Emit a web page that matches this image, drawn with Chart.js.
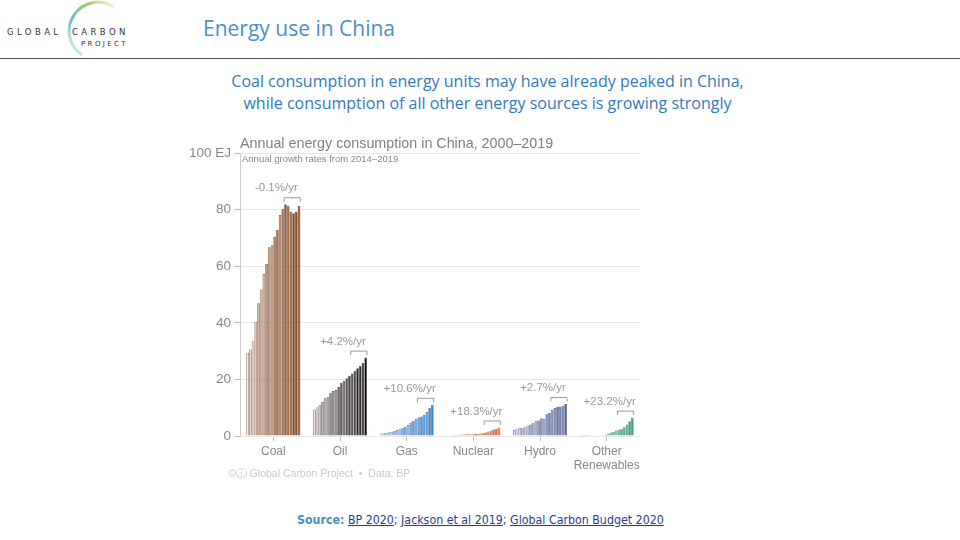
<!DOCTYPE html>
<html>
<head>
<meta charset="utf-8">
<script src="https://cdn.jsdelivr.net/npm/chart.js@4"></script>
<style>
  body { margin: 0; background: #fff; }
  #page { position: relative; width: 960px; height: 540px; overflow: hidden; font-family: "Open Sans", sans-serif; }
  #logo { position: absolute; left: 0; top: 0; }
  #title { position: absolute; left: 203px; top: 14px; font-family: "Open Sans", sans-serif; font-size: 21px; color: #4a8fcf; }
  #rule { position: absolute; left: 0; top: 58px; width: 960px; height: 1px; background: #555; }
  #lead { position: absolute; left: 180px; top: 70px; width: 615px; text-align: center; font-family: "Open Sans", sans-serif; font-size: 16px; line-height: 22px; color: #3479bb; }
  #wrap { position: absolute; left: 180px; top: 130px; width: 470px; height: 360px; }
  #source { position: absolute; left: 297px; top: 513px; font-family: "DejaVu Sans Condensed", "DejaVu Sans", sans-serif; font-size: 12.3px; color: #1f3d8f; }
  #source b { color: #4a8fc0; }
  #source u { color: #1f3d8f; }
</style>
</head>
<body>
<div id="page">
  <svg id="logo" width="140" height="60">
    <defs>
      <linearGradient id="arcg" x1="1" y1="0" x2="0" y2="1">
        <stop offset="0" stop-color="#d6e07a" stop-opacity="0.3"/>
        <stop offset="0.3" stop-color="#9ccc6e"/>
        <stop offset="0.65" stop-color="#6cbfc6"/>
        <stop offset="1" stop-color="#b8dde6" stop-opacity="0.4"/>
      </linearGradient>
    </defs>
    <path d="M 114 7 A 28 28 0 1 0 82 55" fill="none" stroke="url(#arcg)" stroke-width="3"/>
    <text x="7" y="35" font-family="DejaVu Sans" font-size="8.5" letter-spacing="3.4" fill="#333">GLOBAL</text>
    <text x="72" y="35" font-family="DejaVu Sans" font-size="8.5" letter-spacing="3.4" fill="#333">CARBON</text>
    <text x="81" y="46" font-family="DejaVu Sans" font-size="7" letter-spacing="2.4" fill="#333">PROJECT</text>
  </svg>
  <div id="title">Energy use in China</div>
  <div id="rule"></div>
  <div id="lead">Coal consumption in energy units may have already peaked in China,<br>while consumption of all other energy sources is growing strongly</div>
  <div id="wrap"><canvas id="chart" width="470" height="360"></canvas></div>
  <div id="source"><b>Source:</b> <u>BP 2020</u>; <u>Jackson et al 2019</u>; <u>Global Carbon Budget 2020</u></div>
</div>
<script>
const categories = ["Coal", "Oil", "Gas", "Nuclear", "Hydro", ["Other", "Renewables"]];
const years = [2000, 2001, 2002, 2003, 2004, 2005, 2006, 2007, 2008, 2009,
               2010, 2011, 2012, 2013, 2014, 2015, 2016, 2017, 2018, 2019];
const coal = [29.4, 30.6, 33.7, 40.4, 46.9, 51.8, 57.2, 60.8, 66.7, 67.4,
              70.4, 72.8, 78.1, 80.1, 81.9, 81.3, 79.3, 78.7, 79.3, 81.3];
const oil = [9.4, 10.1, 10.9, 12.1, 13.3, 13.7, 15.3, 15.9, 16.3, 17.4,
             18.8, 19.5, 20.4, 21.2, 22.1, 23.1, 23.9, 24.7, 25.9, 27.7];
const gas = [0.9, 1.0, 1.1, 1.3, 1.5, 1.8, 2.1, 2.6, 2.9, 3.2,
             3.9, 4.8, 5.3, 6.0, 6.6, 6.9, 7.4, 8.6, 10.0, 11.0];
const nuclear = [0.15, 0.16, 0.24, 0.41, 0.47, 0.49, 0.51, 0.58, 0.64, 0.65,
                 0.69, 0.80, 0.89, 0.99, 1.2, 1.6, 1.9, 2.3, 2.6, 3.0];
const hydro = [2.1, 2.6, 2.7, 2.7, 3.3, 3.7, 4.1, 4.5, 5.4, 5.5,
               6.3, 6.1, 7.7, 8.1, 9.3, 9.9, 10.3, 10.4, 10.7, 11.3];
const otherRenewables = [0.03, 0.03, 0.04, 0.05, 0.06, 0.07, 0.1, 0.15, 0.25, 0.45,
                         0.75, 1.1, 1.45, 1.9, 2.2, 2.6, 3.1, 4.1, 5.2, 6.5];
const growthLabels = ["-0.1%/yr", "+4.2%/yr", "+10.6%/yr", "+18.3%/yr", "+2.7%/yr", "+23.2%/yr"];
const yTicks = [0, 20, 40, 60, 80, 100];

const series = [coal, oil, gas, nuclear, hydro, otherRenewables];

// light -> dark shade per category, plus an outline colour
const shades = [
  { from: [246, 236, 232], to: [120, 56, 14], edge: "rgba(105,50,18,0.85)" },
  { from: [238, 226, 226], to: [8, 8, 8], edge: "rgba(50,40,40,0.8)" },
  { from: [226, 236, 248], to: [40, 130, 215], edge: "rgba(30,85,150,0.8)" },
  { from: [248, 224, 214], to: [226, 96, 48], edge: "rgba(150,65,35,0.8)" },
  { from: [226, 230, 244], to: [88, 104, 158], edge: "rgba(55,65,115,0.85)" },
  { from: [222, 242, 232], to: [52, 162, 118], edge: "rgba(30,115,80,0.8)" }
];
function shade(c, i) {
  const t = Math.pow(i / (years.length - 1), 0.8);
  const f = shades[c].from, e = shades[c].to;
  const rgb = f.map((v, k) => Math.round(v + (e[k] - v) * t));
  return "rgb(" + rgb.join(",") + ")";
}

const datasets = years.map((y, i) => ({
  label: String(y),
  data: series.map(s => s[i]),
  backgroundColor: series.map((s, c) => shade(c, i)),
  borderColor: series.map((s, c) => shades[c].edge),
  borderWidth: 0.7,
  borderSkipped: "bottom",
  categoryPercentage: 0.81,
  barPercentage: 1
}));

const labelFont = "Liberation Sans, Arial, sans-serif";

const extras = {
  id: "extras",
  afterDatasetsDraw(chart) {
    const ctx = chart.ctx;
    const yScale = chart.scales.y;
    ctx.save();
    // title + subtitle
    ctx.fillStyle = "#808080";
    ctx.font = "14.3px " + labelFont;
    ctx.textBaseline = "middle";
    ctx.textAlign = "left";
    ctx.fillText("Annual energy consumption in China, 2000\u20132019", 60, 14);
    ctx.fillStyle = "#888";
    ctx.font = "9.5px " + labelFont;
    ctx.fillText("Annual growth rates from 2014\u20132019", 62, 29);
    // growth brackets over 2014-2019
    const first = chart.getDatasetMeta(14).data;
    const last = chart.getDatasetMeta(19).data;
    categories.forEach((cat, c) => {
      const x0 = first[c].x - first[c].width / 2;
      const x1 = last[c].x + last[c].width / 2;
      const top = yScale.getPixelForValue(Math.max(...series[c]));
      const by = top - 6.5;
      ctx.strokeStyle = "#999";
      ctx.lineWidth = 1;
      ctx.beginPath();
      ctx.moveTo(x0, by + 4);
      ctx.lineTo(x0, by);
      ctx.lineTo(x1, by);
      ctx.lineTo(x1, by + 4);
      ctx.stroke();
      ctx.fillStyle = "#999";
      ctx.font = "11.5px " + labelFont;
      ctx.textAlign = "center";
      const cx = chart.scales.x.getPixelForValue(c) + 3;
      ctx.fillText(growthLabels[c], cx, top - 16);
    });
    // footer
    ctx.fillStyle = "#c8c8c8";
    ctx.font = "10.5px " + labelFont;
    ctx.textAlign = "left";
    ctx.fillText("\u00a9\u24d8 Global Carbon Project  \u2022  Data: BP", 48, 344);
    ctx.restore();
  }
};

new Chart(document.getElementById("chart").getContext("2d"), {
  type: "bar",
  data: { labels: categories, datasets: datasets },
  options: {
    responsive: false,
    animation: false,
    events: [],
    layout: { padding: { top: 23, right: 10, bottom: 0, left: 0 } },
    plugins: { legend: { display: false }, tooltip: { enabled: false } },
    scales: {
      x: {
        afterFit: s => { s.height = 54; },
        grid: { offset: false, drawOnChartArea: false, tickLength: 5, tickColor: "#bbb" },
        border: { display: false },
        ticks: { color: "#888", font: { family: labelFont, size: 12 }, padding: 3, maxRotation: 0, autoSkip: false }
      },
      y: {
        min: 0,
        max: 100,
        afterFit: s => { s.width = 60; },
        afterBuildTicks: s => { s.ticks = yTicks.map(v => ({ value: v })); },
        grid: { color: "#e8e8e8", tickLength: 6, tickColor: "#bbb" },
        border: { display: true, color: "#cfcfcf" },
        ticks: {
          color: "#888",
          font: { family: labelFont, size: 13.5 },
          padding: 3,
          callback: v => (v === 100 ? "100 EJ" : v)
        }
      }
    }
  },
  plugins: [extras]
});
</script>
</body>
</html>
